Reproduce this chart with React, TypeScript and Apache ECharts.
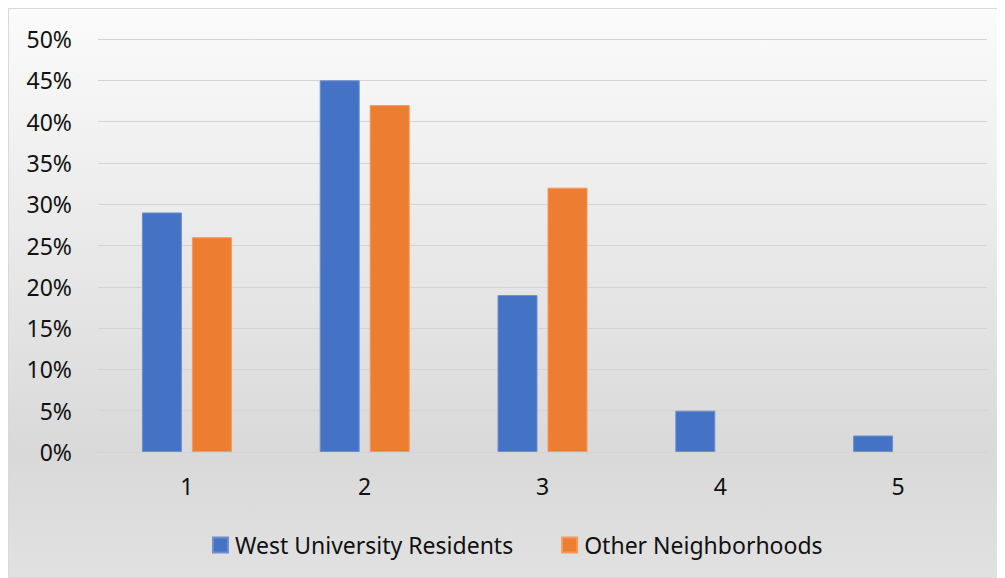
import React, { useEffect, useRef } from "react";
import * as echarts from "echarts";

const categories = ["1", "2", "3", "4", "5"];
const westUniversity = [29, 45, 19, 5, 2];
const otherNeighborhoods = [26, 42, 32, 0, 0];
const seriesNames = ["West University Residents", "Other Neighborhoods"];
const colors = ["#4472C4", "#ED7D31"];

const FONT = "'Noto Sans', sans-serif";

export default function App() {
  const ref = useRef<HTMLDivElement>(null);
  useEffect(() => {
    if (!ref.current) return;
    const chart = echarts.init(ref.current, undefined, { renderer: "svg" });
    const textStyle = { fontFamily: FONT, fontSize: 23, color: "#111" };
    chart.setOption({
      animation: false,
      backgroundColor: "transparent",
      textStyle: { fontFamily: FONT },
      grid: { left: 89, right: 17, top: 30, bottom: 125 },
      legend: {
        left: 203,
        top: 523,
        padding: 0,
        itemWidth: 15,
        itemHeight: 15,
        itemGap: 48,
        icon: "rect",
        textStyle: { ...textStyle, padding: [0, 0, 0, 2], lineHeight: 26 },
        data: seriesNames,
      },
      xAxis: {
        type: "category",
        data: categories,
        axisLine: { show: false },
        axisTick: { show: false },
        axisLabel: { ...textStyle, margin: 22 },
      },
      yAxis: {
        type: "value",
        min: 0,
        max: 50,
        interval: 5,
        axisLabel: { ...textStyle, formatter: "{value}%", margin: 26 },
        splitLine: { lineStyle: { color: "#d4d4d4", width: 1 } },
        axisLine: { show: false },
        axisTick: { show: false },
      },
      series: [
        {
          name: seriesNames[0],
          type: "bar",
          data: westUniversity,
          barWidth: 40,
          barGap: "25%",
          itemStyle: { color: colors[0], borderColor: "#6d8fd0", borderWidth: 1 },
        },
        {
          name: seriesNames[1],
          type: "bar",
          data: otherNeighborhoods.map((v) => (v === 0 ? null : v)),
          barWidth: 40,
          barGap: "25%",
          itemStyle: { color: colors[1], borderColor: "#f09a5e", borderWidth: 1 },
        },
      ],
    });
    return () => chart.dispose();
  }, []);
  return (
    <div
      style={{
        width: 997,
        height: 570,
        boxSizing: "border-box",
        border: "1px solid #d9d9d9",
        background: "linear-gradient(to bottom, #fbfbfb 0%, #d9d9d9 78%, #e1e1e1 100%)",
      }}
    >
      <div ref={ref} style={{ width: 995, height: 568 }} />
    </div>
  );
}
